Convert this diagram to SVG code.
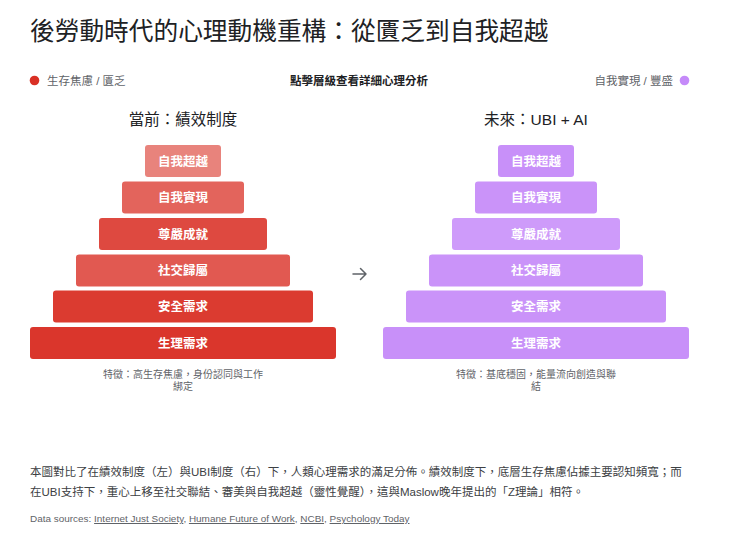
<svg xmlns="http://www.w3.org/2000/svg" width="740" height="542" viewBox="0 0 740 542">
<style>
text{font-family:"Liberation Sans","Noto Sans CJK TC",sans-serif}
.title{font-size:24.7px;fill:#202124}
.leg{font-size:11.5px;fill:#5f6368}
.hint{font-size:11.5px;font-weight:bold;fill:#202124}
.head{font-size:15.5px;fill:#202124;text-anchor:middle}
.bar{font-size:12.5px;font-weight:bold;fill:#ffffff;text-anchor:middle}
.cap{font-size:10px;fill:#5f6368;text-anchor:middle}
.red{fill:#d93025}
.pur{fill:#c58af9}
.para{font-size:11.5px;fill:#3c4043}
.src{font-size:9.95px;fill:#5f6368}
.lnk{text-decoration:underline}
.arrow{fill:none;stroke:#5f6368;stroke-width:1.5;stroke-linecap:round;stroke-linejoin:round}
</style>
<rect width="740" height="542" fill="#ffffff"/>
<text class="title" x="30" y="40">後勞動時代的心理動機重構：從匱乏到自我超越</text>
<g id="legend">
<circle cx="34.5" cy="80.5" r="4.8" fill="#d93025"/>
<text class="leg" x="47" y="84.5">生存焦慮 / 匱乏</text>
<text class="hint" x="359" y="84.5" text-anchor="middle">點擊層級查看詳細心理分析</text>
<text class="leg" x="673" y="84.5" text-anchor="end">自我實現 / 豐盛</text>
<circle cx="684.5" cy="80.5" r="4.8" fill="#c58af9"/>
</g>
<g id="left-pyramid">
<text class="head" x="183" y="125">當前：績效制度</text>
<g id="l-transcend"><rect class="red" x="145" y="145" width="76" height="32" rx="3" fill-opacity="0.6"/><text class="bar" x="183" y="165.5">自我超越</text></g>
<g id="l-actual"><rect class="red" x="122" y="181.5" width="122" height="32" rx="3" fill-opacity="0.75"/><text class="bar" x="183" y="202">自我實現</text></g>
<g id="l-esteem"><rect class="red" x="99" y="218" width="168" height="32" rx="3" fill-opacity="0.88"/><text class="bar" x="183" y="238.5">尊嚴成就</text></g>
<g id="l-social"><rect class="red" x="76" y="254.5" width="214" height="32" rx="3" fill-opacity="0.8"/><text class="bar" x="183" y="275">社交歸屬</text></g>
<g id="l-safety"><rect class="red" x="53" y="290.5" width="260" height="32" rx="3" fill-opacity="0.95"/><text class="bar" x="183" y="311">安全需求</text></g>
<g id="l-physio"><rect class="red" x="30" y="327" width="306" height="32" rx="3" fill-opacity="0.97"/><text class="bar" x="183" y="347.5">生理需求</text></g>
<text class="cap" x="183" y="377.5">特徵：高生存焦慮，身份認同與工作</text>
<text class="cap" x="183" y="390">綁定</text>
</g>
<g id="connectors">
<path class="arrow" d="M353,274 H366 M360.5,268.5 L366,274 L360.5,279.5"/>
</g>
<g id="right-pyramid">
<text class="head" x="536" y="125">未來：UBI + AI</text>
<g id="r-transcend"><rect class="pur" x="498" y="145" width="76" height="32" rx="3" fill-opacity="0.95"/><text class="bar" x="536" y="165.5">自我超越</text></g>
<g id="r-actual"><rect class="pur" x="475" y="181.5" width="122" height="32" rx="3" fill-opacity="0.92"/><text class="bar" x="536" y="202">自我實現</text></g>
<g id="r-esteem"><rect class="pur" x="452" y="218" width="168" height="32" rx="3" fill-opacity="0.85"/><text class="bar" x="536" y="238.5">尊嚴成就</text></g>
<g id="r-social"><rect class="pur" x="429" y="254.5" width="214" height="32" rx="3" fill-opacity="0.92"/><text class="bar" x="536" y="275">社交歸屬</text></g>
<g id="r-safety"><rect class="pur" x="406" y="290.5" width="260" height="32" rx="3" fill-opacity="0.92"/><text class="bar" x="536" y="311">安全需求</text></g>
<g id="r-physio"><rect class="pur" x="383" y="327" width="306" height="32" rx="3" fill-opacity="0.95"/><text class="bar" x="536" y="347.5">生理需求</text></g>
<text class="cap" x="536" y="377.5">特徵：基底穩固，能量流向創造與聯</text>
<text class="cap" x="536" y="390">結</text>
</g>
<g id="footer">
<text class="para" x="30" y="476">本圖對比了在績效制度（左）與UBI制度（右）下，人類心理需求的滿足分佈。績效制度下，底層生存焦慮佔據主要認知頻寬；而</text>
<text class="para" x="30" y="496">在UBI支持下，重心上移至社交聯結、審美與自我超越（靈性覺醒），這與Maslow晚年提出的「Z理論」相符。</text>
<text class="src" x="30" y="522">Data sources: <tspan class="lnk">Internet Just Society</tspan>, <tspan class="lnk">Humane Future of Work</tspan>, <tspan class="lnk">NCBI</tspan>, <tspan class="lnk">Psychology Today</tspan></text>
</g>
</svg>
